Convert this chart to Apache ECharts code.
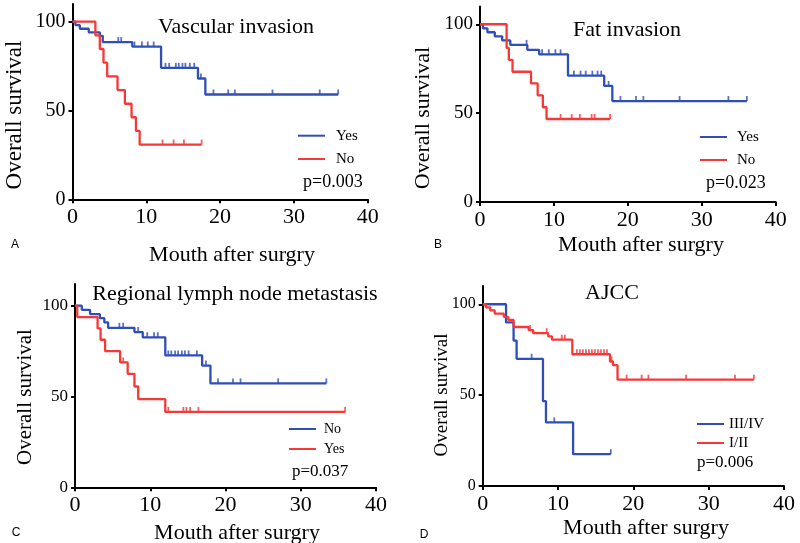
<!DOCTYPE html>
<html><head><meta charset="utf-8">
<script src="https://cdn.jsdelivr.net/npm/echarts@6/dist/echarts.min.js"></script>
<style>html,body{margin:0;padding:0;background:#fff}#c{width:800px;height:543px}</style>
</head><body><div id="c"></div>
<script>
// ---------- tick labels ----------
const xTicks = [0, 10, 20, 30, 40];
const yTicks = [0, 50, 100];

// ---------- Panel A: Vascular invasion ----------
const aYesT = [0, 0.4, 1.0, 2.2, 3.7, 4.1, 8.1, 12.0, 17.0, 18.0];
const aYesS = [100, 98, 96, 94, 92, 88.5, 86, 74, 68, 59];
const aYesCens = [6.2, 6.6, 8.4, 9.4, 10.2, 11.0, 12.6, 13.1, 14.0, 14.4, 14.9, 15.3, 15.9, 16.5, 17.4, 19.1, 21.1, 22.0, 27.1, 33.5, 36.0];
const aYesEnd = 36.0;
const aNoT = [0, 3.1, 3.7, 4.2, 4.7, 6.1, 7.1, 8.0, 8.6, 9.1];
const aNoS = [100, 92.3, 84.6, 76.9, 69.2, 61.5, 53.8, 46.2, 38.5, 30.8];
const aNoCens = [12.2, 13.7, 15.1, 17.5];
const aNoEnd = 17.5;

// ---------- Panel B: Fat invasion ----------
const bYesT = [0, 0.4, 1.0, 2.0, 3.0, 4.1, 6.4, 8.0, 11.9, 16.8, 17.9];
const bYesS = [100, 97.7, 95.5, 93.2, 90.9, 88.4, 85.6, 83.1, 71.1, 65.3, 56.8];
const bYesCens = [6.3, 8.4, 9.3, 10.2, 10.9, 12.7, 13.6, 14.3, 15.2, 15.9, 16.4, 17.4, 19.0, 21.1, 22.1, 27.0, 33.6, 36.1];
const bYesEnd = 36.1;
const bNoT = [0, 3.6, 3.9, 4.4, 6.9, 7.8, 8.5, 9.0];
const bNoS = [100, 86.7, 80, 73.3, 66.7, 60, 53.3, 46.7];
const bNoCens = [10.9, 12.4, 13.5, 15.1, 15.5, 17.6];
const bNoEnd = 17.6;

// ---------- Panel C: Regional lymph node metastasis ----------
const cNoT = [0, 0.9, 2.0, 3.3, 3.9, 4.4, 7.9, 9.0, 12.0, 16.9, 18.0];
const cNoS = [100, 97.7, 95.4, 93.1, 90.8, 87.8, 85.5, 82.6, 72.6, 67.0, 57.2];
const cNoCens = [5.9, 6.4, 8.4, 9.6, 10.5, 11.0, 12.4, 12.8, 13.3, 13.7, 14.2, 14.6, 15.1, 16.2, 17.4, 19.0, 21.0, 22.0, 27.0, 33.4];
const cNoEnd = 33.4;
const cYesT = [0, 0.3, 3.0, 3.4, 4.0, 6.0, 7.0, 7.9, 8.4, 12.0];
const cYesS = [100, 93.75, 87.5, 81.25, 75, 68.75, 62.5, 55.5, 48.5, 41.5];
const cYesCens = [6.4, 12.4, 14.4, 14.8, 15.3, 16.4, 35.9];
const cYesEnd = 35.9;

// ---------- Panel D: AJCC ----------
const dHighT = [0, 3.1, 4.1, 4.5, 8.0, 8.4, 12.0];
const dHighS = [100, 90, 80, 70, 46.7, 35, 17.5];
const dHighCens = [6.5, 9.5, 17.0];
const dHighEnd = 17.0;
const dLowT = [0, 0.4, 1.0, 1.6, 2.8, 3.4, 4.1, 6.1, 6.7, 8.7, 9.2, 11.9, 16.9, 17.3, 17.9];
const dLowS = [100, 98.3, 96.6, 94.8, 93.1, 91.4, 87.5, 85.8, 84.1, 82.3, 80.5, 72.5, 68.5, 66.5, 58.5];
const dLowCens = [6.3, 8.5, 10.5, 10.9, 12.5, 12.9, 13.3, 13.7, 14.1, 14.5, 14.9, 15.3, 15.7, 16.1, 16.5, 17.1, 19.1, 21.1, 22.0, 27.0, 33.5, 36.0];
const dLowEnd = 36.0;

const BLUE = '#2f4fb8';
const RED = '#f53838';
const SERIF = '"Liberation Serif", "Times New Roman", serif';

function kmPoints(T, S, end) {
  const pts = [[T[0], S[0]]];
  for (let i = 1; i < T.length; i++) {
    pts.push([T[i], S[i - 1]]);
    pts.push([T[i], S[i]]);
  }
  pts.push([end, S[S.length - 1]]);
  return pts;
}
function survAt(T, S, t) {
  let s = S[0];
  for (let i = 0; i < T.length; i++) if (T[i] <= t) s = S[i];
  return s;
}

const panels = [
  { key: 'A', grid: { left: 72.5, top: 3.9, width: 295.2, height: 195.4 }, ymax: 110, ylab: 20,
    curves: [
      { name: 'Yes', T: aYesT, S: aYesS, C: aYesCens, E: aYesEnd, color: BLUE },
      { name: 'No', T: aNoT, S: aNoS, C: aNoCens, E: aNoEnd, color: RED }],
    legend: { left: 298, top: 127.7, itemGap: 7.3, fontSize: 15, pad: 6 } },
  { key: 'B', grid: { left: 480, top: 6.5, width: 295.7, height: 195.5 }, ymax: 110, ylab: 19,
    curves: [
      { name: 'Yes', T: bYesT, S: bYesS, C: bYesCens, E: bYesEnd, color: BLUE },
      { name: 'No', T: bNoT, S: bNoS, C: bNoCens, E: bNoEnd, color: RED }],
    legend: { left: 700, top: 129, itemGap: 7, fontSize: 15, pad: 5 } },
  { key: 'C', grid: { left: 75, top: 283.9, width: 301, height: 203.4 }, ymax: 112, ylab: 17,
    curves: [
      { name: 'No', T: cNoT, S: cNoS, C: cNoCens, E: cNoEnd, color: BLUE },
      { name: 'Yes', T: cYesT, S: cYesS, C: cYesCens, E: cYesEnd, color: RED }],
    legend: { left: 289, top: 421, itemGap: 4, fontSize: 14, pad: 3 } },
  { key: 'D', grid: { left: 482.7, top: 286.1, width: 301.3, height: 199.9 }, ymax: 110, ylab: 16,
    curves: [
      { name: 'III/IV', T: dHighT, S: dHighS, C: dHighCens, E: dHighEnd, color: BLUE },
      { name: 'I/II', T: dLowT, S: dLowS, C: dLowCens, E: dLowEnd, color: RED }],
    legend: { left: 697, top: 416, itemGap: 3, fontSize: 15, pad: 0 } }
];

const grids = [], xAxes = [], yAxes = [], series = [], legends = [];
panels.forEach((p, i) => {
  grids.push(Object.assign({ containLabel: false }, p.grid));
  xAxes.push({
    type: 'value', gridIndex: i, min: 0, max: 40, interval: 10,
    axisLine: { show: true, onZero: false, lineStyle: { color: '#000', width: 2 } },
    axisTick: { show: true, length: 4, lineStyle: { color: '#000', width: 2 } },
    axisLabel: { show: true, fontFamily: SERIF, fontSize: 22, color: '#000', margin: 7,
      customValues: xTicks },
    splitLine: { show: false }
  });
  yAxes.push({
    type: 'value', gridIndex: i, min: 0, max: p.ymax,
    axisLine: { show: true, onZero: false, lineStyle: { color: '#000', width: 2 } },
    axisTick: { show: true, length: 4, lineStyle: { color: '#000', width: 2 }, customValues: yTicks },
    axisLabel: { show: true, fontFamily: SERIF, fontSize: p.ylab, color: '#000', margin: 7,
      customValues: yTicks },
    splitLine: { show: false }
  });
  const names = [];
  p.curves.forEach(c => {
    const sname = p.key + ':' + c.name;
    names.push(sname);
    series.push({
      name: sname, type: 'line', xAxisIndex: i, yAxisIndex: i,
      data: kmPoints(c.T, c.S, c.E), showSymbol: false, symbol: 'none',
      lineStyle: { width: 2.3, color: c.color }, itemStyle: { color: c.color },
      animation: false, silent: true
    });
    series.push({
      name: sname + ':cens', type: 'scatter', xAxisIndex: i, yAxisIndex: i,
      data: c.C.map(t => [t, survAt(c.T, c.S, t)]),
      symbol: 'rect', symbolSize: [1.8, 5], symbolOffset: [0, -2.5],
      itemStyle: { color: c.color }, animation: false, silent: true
    });
  });
  legends.push({
    left: p.legend.left, top: p.legend.top, orient: 'vertical',
    itemGap: p.legend.itemGap, itemWidth: 27, itemHeight: 2, icon: 'rect',
    selectedMode: false, padding: 0, data: names,
    formatter: n => n.split(':')[1],
    textStyle: { fontFamily: SERIF, fontSize: p.legend.fontSize, lineHeight: 16, color: '#000',
      padding: [0, 0, 0, p.legend.pad] }
  });
});

function txt(text, x, y, size) {
  return { type: 'text', x: x, y: y,
    style: { text: text, font: size + 'px ' + SERIF, fill: '#000', align: 'center', verticalAlign: 'middle' } };
}
function rot(text, x, y, size) {
  return { type: 'text', x: x, y: y, rotation: Math.PI / 2,
    style: { text: text, font: size + 'px ' + SERIF, fill: '#000', align: 'center', verticalAlign: 'middle' } };
}
function pval(text, x, y, size) {
  return { type: 'text', x: x, y: y,
    style: { text: text, font: size + 'px ' + SERIF, fill: '#000', align: 'left', verticalAlign: 'middle' } };
}
function letter(text, x, y) {
  return { type: 'text', x: x, y: y,
    style: { text: text, font: '12px "Liberation Sans", Arial, sans-serif', fill: '#000', align: 'center', verticalAlign: 'middle' } };
}

const graphics = [
  txt('Vascular invasion', 236, 27, 22),
  txt('Fat invasion', 627, 30, 22),
  txt('Regional lymph node metastasis', 235, 294, 22),
  txt('AJCC', 612, 293, 22),
  txt('Mouth after surgry', 232, 255, 22),
  txt('Mouth after surgry', 641, 245, 22),
  txt('Mouth after surgry', 237, 533, 22),
  txt('Mouth after surgry', 646, 528, 22),
  rot('Overall survival', 15, 115, 23),
  rot('Overall survival', 423, 118, 22),
  rot('Overall survival', 25, 397, 21),
  rot('Overall survival', 442, 395, 19),
  pval('p=0.003', 303, 182, 18),
  pval('p=0.023', 706, 183, 18),
  pval('p=0.037', 292, 472, 17),
  pval('p=0.006', 697, 463, 17),
  letter('A', 15, 245),
  letter('B', 438, 245),
  letter('C', 16, 533),
  letter('D', 424, 535)
];

const chart = echarts.init(document.getElementById('c'), null, { renderer: 'canvas' });
chart.setOption({
  backgroundColor: '#fff',
  animation: false,
  grid: grids, xAxis: xAxes, yAxis: yAxes, series: series, legend: legends,
  graphic: graphics
});
</script>
</body></html>
